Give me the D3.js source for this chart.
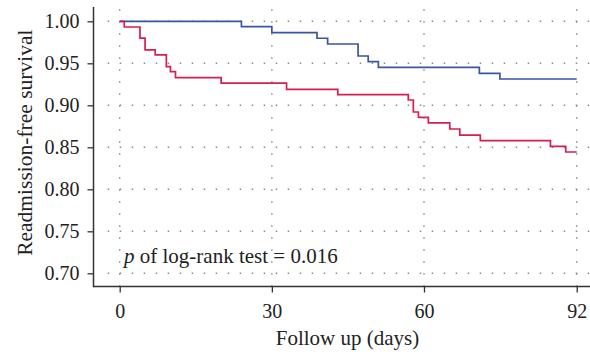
<!DOCTYPE html>
<html>
<head>
<meta charset="utf-8">
<script src="https://cdn.jsdelivr.net/npm/d3@7"></script>
<style>
  html, body { margin: 0; padding: 0; background: #fff; }
  svg { display: block; }
  text { font-family: "Liberation Serif", "Times New Roman", serif; fill: #222; }
</style>
</head>
<body>
<svg id="chart" width="590" height="355"></svg>
<script>
// ---- data ----
const xTickValues = [0, 30, 60, 92];
const xTickLabels = ["0", "30", "60", "92"];
const yTickValues = [0.70, 0.75, 0.80, 0.85, 0.90, 0.95, 1.00];
const yTickLabels = ["0.70", "0.75", "0.80", "0.85", "0.90", "0.95", "1.00"];

const blueTimes = [0, 24.0, 30.0, 38.9, 41.0, 47.0, 49.0, 51.0, 71.6, 75.9, 92];
const blueSurv  = [1.000, 0.9936, 0.9864, 0.9798, 0.9730, 0.9587, 0.9519, 0.9452, 0.9380, 0.9313, 0.9313];

const redTimes = [0, 0.9, 4.0, 5.0, 7.0, 9.2, 10.0, 11.0, 20.0, 32.9, 43.0, 56.9, 57.9, 58.9, 60.9, 65.4, 67.5, 71.8, 86.5, 89.7, 92];
const redSurv  = [1.000, 0.9932, 0.980, 0.966, 0.960, 0.946, 0.940, 0.933, 0.9265, 0.919, 0.9126, 0.9063, 0.892, 0.8857, 0.879, 0.8718, 0.8646, 0.8579, 0.8512, 0.8444, 0.8444];

const xTitle = "Follow up (days)";
const yTitle = "Readmission-free survival";
const annotP = "p";
const annotRest = " of log-rank test = 0.016";

// ---- layout ----
const svg = d3.select("#chart");
const axisX = 93.5, axisY = 286.5, topY = 7, rightX = 590;

const x = d3.scaleLinear().domain([0, 60, 92]).range([119.7, 424, 576.7]);
const y = d3.scaleLinear().domain([0.70, 1.00]).range([273.3, 21.3]);

const gridColor = "#8a8a8a";
const axisColor = "#333";

// gridlines (dotted)
svg.append("g").selectAll("line").data(yTickValues).join("line")
  .attr("x1", x(0) - 12).attr("x2", rightX)
  .attr("y1", d => y(d)).attr("y2", d => y(d))
  .attr("stroke", gridColor).attr("stroke-width", 1.4)
  .attr("stroke-dasharray", "1.5,10.5");

svg.append("g").selectAll("line").data(xTickValues).join("line")
  .attr("x1", d => x(d)).attr("x2", d => x(d))
  .attr("y1", y(1.00) - 12).attr("y2", axisY)
  .attr("stroke", gridColor).attr("stroke-width", 1.4)
  .attr("stroke-dasharray", "1.5,10.5");

// axes
const yAxis = d3.axisLeft(y).tickValues(yTickValues)
  .tickFormat((d, i) => yTickLabels[i]).tickSize(6).tickPadding(8).tickSizeOuter(0);
const gy = svg.append("g").attr("transform", `translate(${axisX},0)`).call(yAxis);
gy.select(".domain").remove();
gy.append("line").attr("x1", 0).attr("x2", 0).attr("y1", topY).attr("y2", axisY + 0.75)
  .attr("stroke", axisColor).attr("stroke-width", 1.5);

const xAxis = d3.axisBottom(x).tickValues(xTickValues)
  .tickFormat((d, i) => xTickLabels[i]).tickSize(6).tickPadding(11).tickSizeOuter(0);
const gx = svg.append("g").attr("transform", `translate(0,${axisY})`).call(xAxis);
gx.select(".domain").remove();
gx.append("line").attr("x1", axisX).attr("x2", rightX).attr("y1", 0).attr("y2", 0)
  .attr("stroke", axisColor).attr("stroke-width", 1.5);

[gx, gy].forEach(g => {
  g.selectAll(".tick line").attr("stroke", axisColor).attr("stroke-width", 1.3);
  g.selectAll(".tick text").attr("font-family", "Liberation Serif, serif")
    .attr("font-size", 20).attr("fill", "#222");
});

// curves
const line = d3.line().x(d => x(d[0])).y(d => y(d[1])).curve(d3.curveStepAfter);
const blueData = d3.zip(blueTimes, blueSurv);
const redData = d3.zip(redTimes, redSurv);

svg.append("path").datum(blueData).attr("d", line)
  .attr("fill", "none").attr("stroke", "#3a55a4").attr("stroke-width", 1.7);
svg.append("path").datum(redData).attr("d", line)
  .attr("fill", "none").attr("stroke", "#d51f52").attr("stroke-width", 1.7);

// titles
svg.append("text").attr("x", 347.5).attr("y", 345).attr("text-anchor", "middle")
  .attr("font-size", 21).text(xTitle);

svg.append("text").attr("transform", "translate(31.5,142.7) rotate(-90)")
  .attr("text-anchor", "middle").attr("font-size", 21.5).text(yTitle);

// annotation
const t = svg.append("text").attr("x", 124).attr("y", 263).attr("font-size", 21);
t.append("tspan").attr("font-style", "italic").text(annotP);
t.append("tspan").text(annotRest);
</script>
</body>
</html>
